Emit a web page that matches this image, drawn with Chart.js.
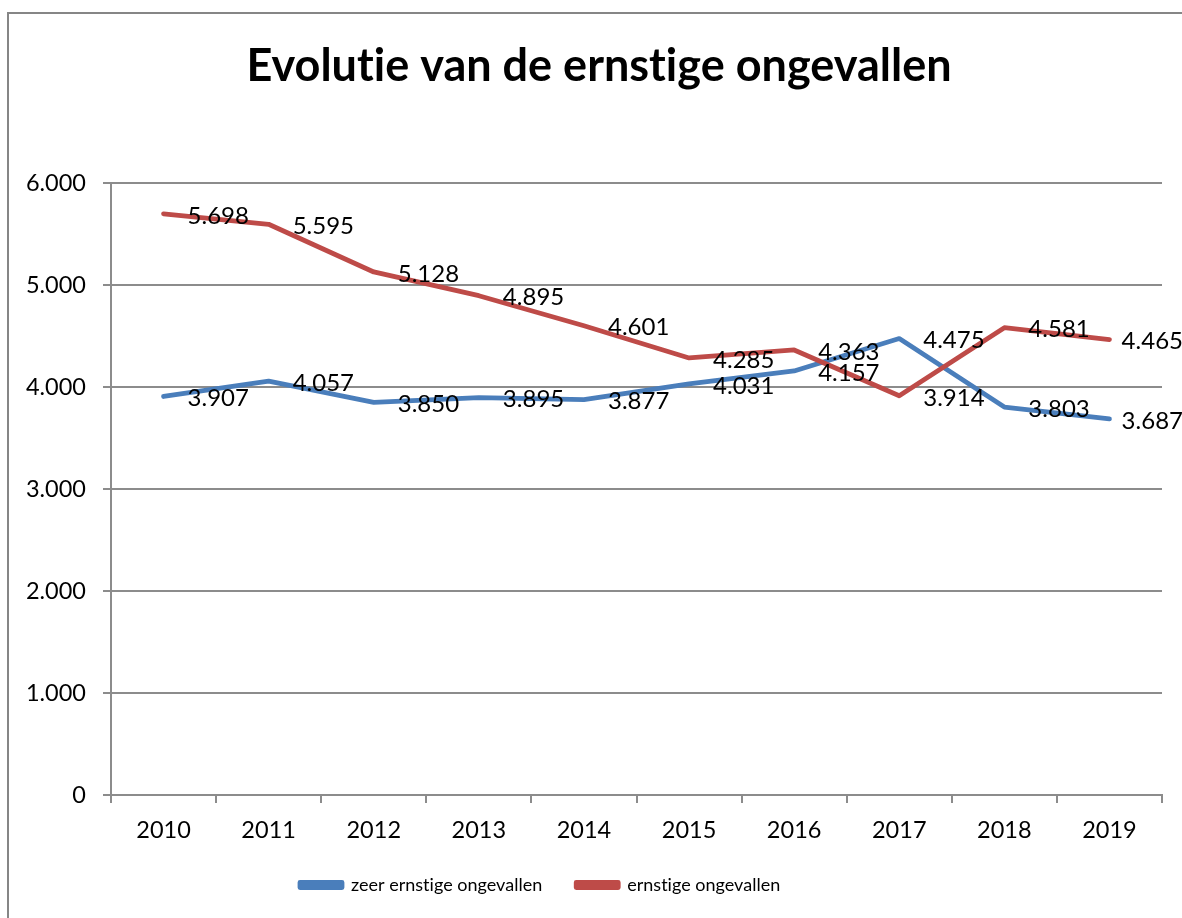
<!DOCTYPE html>
<html>
<head>
<meta charset="utf-8">
<script src="https://cdn.jsdelivr.net/npm/chart.js@4"></script>
<style>
  html, body { margin: 0; padding: 0; background: #ffffff; }
  #wrap { position: relative; width: 1182px; height: 918px; }
</style>
</head>
<body>
<div id="wrap"><canvas id="c" width="1182" height="918"></canvas></div>
<script>
const years = ['2010','2011','2012','2013','2014','2015','2016','2017','2018','2019'];
const zeerErnstig = [3907, 4057, 3850, 3895, 3877, 4031, 4157, 4475, 3803, 3687];
const ernstig = [5698, 5595, 5128, 4895, 4601, 4285, 4363, 3914, 4581, 4465];
const yTicks = [0, 1000, 2000, 3000, 4000, 5000, 6000];
const titleText = 'Evolutie van de ernstige ongevallen';
const seriesNames = ['zeer ernstige ongevallen', 'ernstige ongevallen'];

const FONT = 'Lato';
const PLOT_BOTTOM = 795;
function fmt(v) { return String(v).replace(/\B(?=(\d{3})+(?!\d))/g, '.'); }

const frame = {
  id: 'frame',
  beforeDraw(chart) {
    const ctx = chart.ctx;
    ctx.save();
    ctx.fillStyle = '#ffffff';
    ctx.fillRect(0, 0, chart.width, chart.height);
    ctx.strokeStyle = '#868686';
    ctx.lineWidth = 2;
    ctx.strokeRect(8, 13, 1400, 1400);
    ctx.restore();
    // tiny letter spacing turns off the 'ti' ligature of the font
    if ('letterSpacing' in ctx) ctx.letterSpacing = '0.01px';
  }
};

const placer = {
  id: 'placer',
  afterLayout(chart) {
    const t = chart.titleBlock;
    if (t) { const w = t.right - t.left; t.left = 599 - w / 2; t.right = 599 + w / 2; }
    const lg = chart.legend;
    if (lg) {
      const p = lg.options.labels.padding;
      const dx = (300 - p) - lg.left;
      lg.left += dx; lg.right += dx;
      const dy = (885 - p - 9) - lg.top;
      lg.top += dy; lg.bottom += dy;
    }
  }
};

const dataLabels = {
  id: 'dataLabels',
  afterDatasetsDraw(chart) {
    const ctx = chart.ctx;
    ctx.save();
    ctx.font = '24px ' + FONT;
    ctx.fillStyle = '#000000';
    ctx.textBaseline = 'middle';
    ctx.textAlign = 'left';
    chart.data.datasets.forEach((ds, di) => {
      const meta = chart.getDatasetMeta(di);
      meta.data.forEach((pt, i) => {
        const txt = fmt(ds.data[i]);
        const w = ctx.measureText(txt).width;
        let x = pt.x + 24;
        if (x + w > chart.width + 1) x = chart.width + 1 - w;
        ctx.fillText(txt, x, pt.y + 2);
      });
    });
    ctx.restore();
  }
};

new Chart(document.getElementById('c'), {
  type: 'line',
  data: {
    labels: years,
    datasets: [
      { label: seriesNames[0], data: zeerErnstig, borderColor: '#4A7EBB', backgroundColor: '#4A7EBB',
        borderWidth: 4.8, pointRadius: 0, tension: 0, order: 1, borderCapStyle: 'round', borderJoinStyle: 'round' },
      { label: seriesNames[1], data: ernstig, borderColor: '#BE4B48', backgroundColor: '#BE4B48',
        borderWidth: 4.8, pointRadius: 0, tension: 0, order: 0, borderCapStyle: 'round', borderJoinStyle: 'round' }
    ]
  },
  options: {
    responsive: false,
    animation: false,
    devicePixelRatio: 1,
    layout: { padding: { top: 0, left: 0, right: 20, bottom: 0 } },
    plugins: {
      title: {
        display: true, text: titleText, color: '#000000',
        font: { family: FONT, size: 45, weight: 'bold', lineHeight: 1.2 },
        padding: { top: 39, bottom: 90 }
      },
      legend: {
        display: true, position: 'bottom', align: 'start',
        labels: {
          color: '#000000', font: { family: FONT, size: 18 },
          boxWidth: 42, boxHeight: 5, padding: 34,
          sort: (a, b) => a.datasetIndex - b.datasetIndex
        }
      },
      tooltip: { enabled: false }
    },
    scales: {
      x: {
        type: 'category', offset: true,
        grid: { display: true, offset: true, drawOnChartArea: false, drawTicks: true, tickLength: 8, color: '#8c8c8c', lineWidth: 2 },
        border: { display: true, color: '#8c8c8c', width: 2 },
        ticks: { color: '#000000', font: { family: FONT, size: 23.5 }, padding: 13, maxRotation: 0, autoSkip: false },
        afterFit(s) {
          const lh = s.chart.legend ? s.chart.legend.height : 0;
          s.height = Math.max(10, s.chart.height - PLOT_BOTTOM - lh);
        }
      },
      y: {
        min: 0, max: 6000,
        afterBuildTicks(s) { s.ticks = yTicks.map(v => ({ value: v })); },
        grid: { display: true, drawTicks: true, tickLength: 8, color: '#8c8c8c', lineWidth: 2 },
        border: { display: true, color: '#8c8c8c', width: 2 },
        ticks: { color: '#000000', font: { family: FONT, size: 23.5 }, padding: 17, callback: v => fmt(v) },
        afterFit(s) { s.width = 111; }
      }
    }
  },
  plugins: [frame, placer, dataLabels]
});
</script>
</body>
</html>
